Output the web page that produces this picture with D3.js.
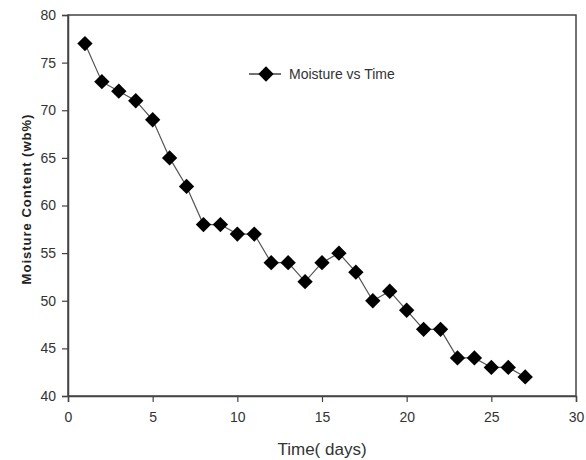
<!DOCTYPE html>
<html>
<head>
<meta charset="utf-8">
<script src="https://cdn.jsdelivr.net/npm/d3@7"></script>
<style>
  body { margin: 0; background: #fff; }
  text { font-family: "Liberation Sans", Arial, sans-serif; }
</style>
</head>
<body>
<div id="chart"></div>
<script>
const days = [1, 2, 3, 4, 5, 6, 7, 8, 9, 10, 11, 12, 13, 14, 15, 16, 17, 18, 19, 20, 21, 22, 23, 24, 25, 26, 27];
const moisture = [77, 73, 72, 71, 69, 65, 62, 58, 58, 57, 57, 54, 54, 52, 54, 55, 53, 50, 51, 49, 47, 47, 44, 44, 43, 43, 42];
const xTicks = [0, 5, 10, 15, 20, 25, 30];
const yTicks = [40, 45, 50, 55, 60, 65, 70, 75, 80];

const margin = { top: 15, right: 10, bottom: 64, left: 68 };
const width = 586 - margin.left - margin.right;
const height = 460 - margin.top - margin.bottom;

const svg = d3.select('#chart')
    .append('svg')
    .attr('width', 586)
    .attr('height', 460)
    .append('g')
    .attr('transform', 'translate(' + margin.left + ',' + margin.top + ')');

const x = d3.scaleLinear().domain([0, 30]).range([0, width]);
const y = d3.scaleLinear().domain([40, 80]).range([height, 0]);

// frame
svg.append('rect')
    .attr('width', width)
    .attr('height', height)
    .style('fill', 'none')
    .style('stroke', '#444')
    .style('stroke-width', 1.5);

const xAxis = svg.append('g')
    .attr('transform', `translate(0, ${height})`)
    .call(d3.axisBottom(x).tickValues(xTicks).tickSize(6).tickPadding(10));
const yAxis = svg.append('g')
    .call(d3.axisLeft(y).tickValues(yTicks).tickSize(6).tickPadding(6));

[xAxis, yAxis].forEach(a => {
    a.select('.domain').style('stroke', '#444').style('stroke-width', 1.5);
    a.selectAll('.tick line').style('stroke', '#444').style('stroke-width', 1.2);
    a.selectAll('.tick text').style('font-size', '14px').style('fill', '#333');
});

const line = d3.line()
    .x((d, i) => x(days[i]))
    .y(d => y(d));

svg.append('path')
    .datum(moisture)
    .attr('d', line)
    .style('fill', 'none')
    .style('stroke', '#555')
    .style('stroke-width', 1.2);

const diamond = d3.symbol().type(d3.symbolDiamond2).size(150);

svg.selectAll('.pt')
    .data(moisture)
    .enter()
    .append('path')
    .attr('class', 'pt')
    .attr('d', diamond)
    .attr('transform', (d, i) => `translate(${x(days[i])}, ${y(d)})`)
    .style('fill', '#000');

// legend
const legend = svg.append('g').attr('transform', 'translate(181, 59)');
legend.append('line')
    .attr('x1', 0).attr('x2', 32)
    .style('stroke', '#444').style('stroke-width', 1.5);
legend.append('path')
    .attr('d', diamond)
    .attr('transform', 'translate(17, 0)')
    .style('fill', '#000');
legend.append('text')
    .attr('x', 40)
    .attr('dy', '0.35em')
    .style('font-size', '14px')
    .style('fill', '#333')
    .text('Moisture vs Time');

svg.append('text')
    .attr('x', width / 2)
    .attr('y', height + 59)
    .style('text-anchor', 'middle')
    .style('font-size', '17px')
    .style('fill', '#333')
    .text('Time( days)');

svg.append('text')
    .attr('transform', 'rotate(-90)')
    .attr('x', -(199 - margin.top))
    .attr('y', -37)
    .style('text-anchor', 'middle')
    .style('font-size', '13px')
    .style('font-weight', 'bold')
    .style('letter-spacing', '1px')
    .style('fill', '#222')
    .text('Moisture Content  (wb%)');
</script>
</body>
</html>
